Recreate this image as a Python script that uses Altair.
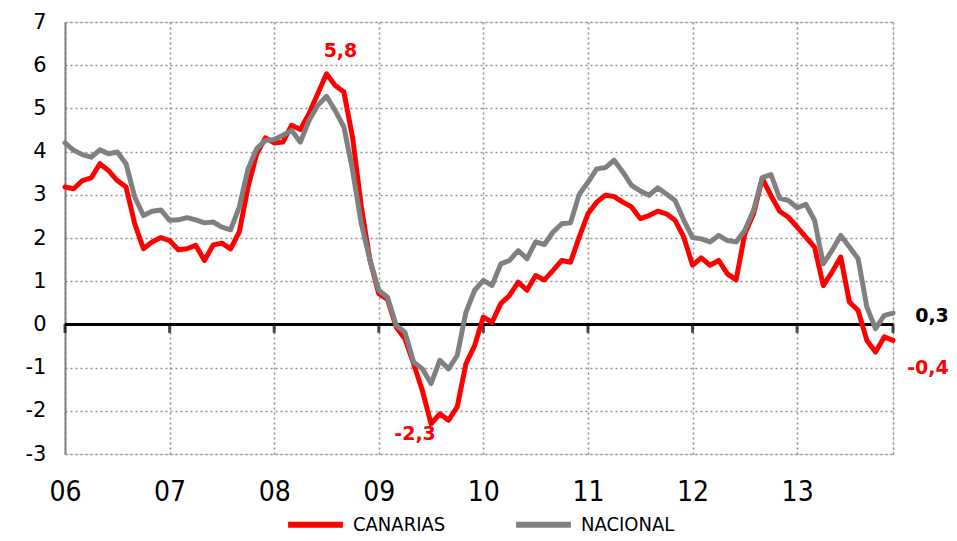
import altair as alt
import pandas as pd

# ---- data (monthly, Jan 2006 .. Dec 2013) ----
canarias = [
    3.18, 3.14, 3.33, 3.39, 3.72, 3.56, 3.33, 3.18, 2.33, 1.75, 1.91, 2.01,
    1.94, 1.73, 1.75, 1.83, 1.48, 1.84, 1.88, 1.75, 2.14, 3.18, 3.95, 4.32,
    4.20, 4.22, 4.61, 4.51, 4.88, 5.34, 5.80, 5.53, 5.38, 4.32, 2.72, 1.48,
    0.71, 0.58, -0.06, -0.33, -0.91, -1.53, -2.30, -2.07, -2.22, -1.91, -0.91, -0.49,
    0.17, 0.05, 0.48, 0.67, 0.98, 0.79, 1.13, 1.03, 1.25, 1.48, 1.44, 2.02,
    2.56, 2.83, 2.99, 2.96, 2.83, 2.72, 2.45, 2.52, 2.62, 2.56, 2.41, 2.02,
    1.37, 1.54, 1.37, 1.48, 1.17, 1.03, 2.10, 2.56, 3.38, 2.98, 2.62, 2.48,
    2.25, 2.02, 1.79, 0.90, 1.21, 1.56, 0.52, 0.32, -0.37, -0.64, -0.29, -0.37,
]
nacional = [
    4.20, 4.03, 3.93, 3.87, 4.04, 3.95, 3.99, 3.72, 2.95, 2.52, 2.62, 2.65,
    2.41, 2.42, 2.47, 2.42, 2.35, 2.37, 2.25, 2.19, 2.72, 3.60, 4.07, 4.26,
    4.28, 4.38, 4.49, 4.22, 4.72, 5.07, 5.28, 4.95, 4.57, 3.56, 2.33, 1.48,
    0.79, 0.63, -0.02, -0.18, -0.87, -1.03, -1.37, -0.83, -1.03, -0.72, 0.28, 0.79,
    1.02, 0.90, 1.40, 1.48, 1.71, 1.52, 1.91, 1.85, 2.14, 2.33, 2.35, 3.01,
    3.29, 3.60, 3.63, 3.80, 3.53, 3.22, 3.09, 2.99, 3.16, 3.02, 2.87, 2.41,
    2.01, 1.98, 1.91, 2.06, 1.94, 1.91, 2.18, 2.64, 3.40, 3.47, 2.92, 2.87,
    2.70, 2.78, 2.41, 1.40, 1.71, 2.06, 1.79, 1.52, 0.40, -0.10, 0.21, 0.26,
]
series_names = ["CANARIAS", "NACIONAL"]
series_colors = ["#ff0000", "#808080"]
year_labels = ["06", "07", "08", "09", "10", "11", "12", "13"]

# annotations: month index, series, text, colour
ann_idx = [30, 42, 95, 95]
ann_series = ["CANARIAS", "CANARIAS", "NACIONAL", "CANARIAS"]
ann_text = ["5,8", "-2,3", "0,3", "-0,4"]
ann_color = ["#ff0000", "#ff0000", "#000000", "#ff0000"]

# ---- tables ----
n = len(canarias)
rows = []
for name, vals in zip(series_names, [canarias, nacional]):
    for i, v in enumerate(vals):
        rows.append({"m": i, "v": v, "serie": name})
df = pd.DataFrame(rows)

lookup = {"CANARIAS": canarias, "NACIONAL": nacional}
ann = pd.DataFrame({
    "m": ann_idx,
    "v": [lookup[s][i] for s, i in zip(ann_series, ann_idx)],
    "t": ann_text,
    "c": ann_color,
})

ticks_df = pd.DataFrame({"m": [12 * k for k in range(len(year_labels))] + [n - 1], "v": 0})

label_arr = "[" + ",".join("'%s'" % s for s in year_labels) + "]"
NARROW = "Liberation Sans Narrow, DejaVu Sans Condensed, Roboto Condensed, Arial Narrow, sans-serif"

x_scale = alt.Scale(domain=[0, n - 1], nice=False, zero=False)
y_scale = alt.Scale(domain=[-3, 7], nice=False, zero=False)

x_axis = alt.Axis(
    values=[12 * k for k in range(len(year_labels))] + [n - 1],
    labelExpr="datum.value >= %d ? '' : %s[round(datum.value/12)]" % (n - 1, label_arr),
    grid=True, gridDash=[2, 3], gridColor="#8f8f8f", gridWidth=1.6,
    domain=False, ticks=False, title=None,
    labelFont=NARROW, labelFontSize=28, labelColor="#000000",
    labelPadding=24, labelAlign="center",
)
y_axis = alt.Axis(
    values=list(range(-3, 8)),
    labelExpr="datum.value < 0 ? '-' + abs(datum.value) : '' + datum.value",
    grid=True, gridDash=[2, 3], gridColor="#8f8f8f", gridWidth=1.6,
    domain=True, domainColor="#808080", domainWidth=2,
    ticks=False, title=None,
    labelFont="DejaVu Sans", labelFontSize=21, labelColor="#000000",
    labelPadding=19,
)

lines = alt.Chart(df).mark_line(strokeWidth=5, strokeJoin="round", strokeCap="round").encode(
    x=alt.X("m:Q", scale=x_scale, axis=x_axis),
    y=alt.Y("v:Q", scale=y_scale, axis=y_axis),
    color=alt.Color(
        "serie:N",
        scale=alt.Scale(domain=series_names, range=series_colors),
        legend=alt.Legend(
            title=None, orient="none", direction="horizontal",
            legendX=220, legendY=472, padding=0,
            symbolType="stroke", symbolSize=3000, symbolStrokeWidth=6,
            labelFont=NARROW, labelFontSize=20, labelColor="#000000",
            labelOffset=7, columnPadding=58, labelLimit=300,
        ),
    ),
    order=alt.Order("m:Q"),
)

zero = alt.Chart(pd.DataFrame({"v": [0]})).mark_rule(color="#000000", strokeWidth=3).encode(
    y=alt.Y("v:Q", scale=y_scale)
)

zticks = alt.Chart(ticks_df).mark_tick(
    color="#000000", orient="vertical", size=9, thickness=3, yOffset=4
).encode(
    x=alt.X("m:Q", scale=x_scale),
    y=alt.Y("v:Q", scale=y_scale),
)

ann_dx = [14, -16, 39, 35]
ann_dy = [-23, 10, 3, 28]
texts = []
for k in range(len(ann_text)):
    texts.append(
        alt.Chart(ann.iloc[[k]]).mark_text(
            font="DejaVu Sans", fontWeight="bold", fontSize=19,
            dx=ann_dx[k], dy=ann_dy[k], align="center", baseline="middle",
            color=ann_color[k],
        ).encode(
            x=alt.X("m:Q", scale=x_scale),
            y=alt.Y("v:Q", scale=y_scale),
            text="t:N",
        )
    )

chart = alt.layer(zero, zticks, lines, *texts).properties(
    width=828, height=432,
    autosize=alt.AutoSizeParams(type="none"),
    padding={"left": 57, "top": 14, "right": 56, "bottom": 79},
).configure_view(stroke=None).configure(background="#ffffff")

chart.save("out.html", embed_options={"renderer": "svg", "actions": False})
